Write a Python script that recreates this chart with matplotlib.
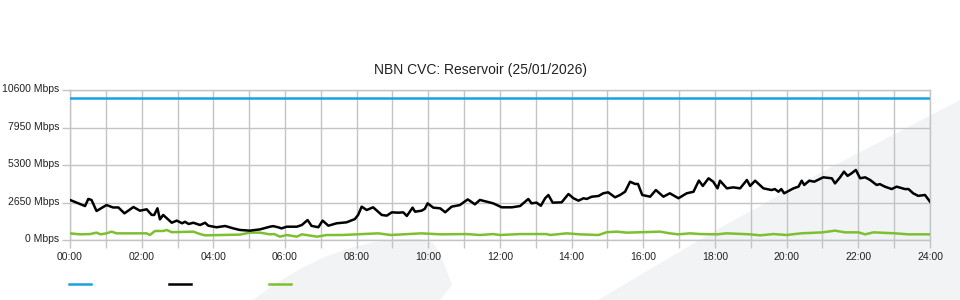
import matplotlib
matplotlib.use("Agg")
import matplotlib.pyplot as plt
from matplotlib.patches import Polygon
from matplotlib.ticker import FixedLocator, MultipleLocator
from matplotlib.transforms import ScaledTranslation

plt.rcParams['font.family'] = ['Liberation Sans', 'DejaVu Sans']

title = "NBN CVC: Reservoir (25/01/2026)"

# capacity (blue)
cap_hours = [0, 24]
cap_mbps = [10000, 10000]

# traffic (black)
black_hours = [0.00, 0.23, 0.42, 0.51, 0.60, 0.74, 1.02, 1.20, 1.35, 1.52, 1.77, 1.95, 2.14, 2.28, 2.35,
               2.44, 2.51, 2.60, 2.84, 2.98, 3.13, 3.21, 3.31, 3.44, 3.63, 3.77, 3.86, 4.09, 4.33, 4.56,
               4.74, 5.02, 5.30, 5.58, 5.67, 5.81, 5.90, 6.05, 6.33, 6.47, 6.63, 6.74, 6.93, 7.05, 7.21,
               7.44, 7.72, 7.95, 8.04, 8.14, 8.28, 8.46, 8.70, 8.84, 8.98, 9.16, 9.30, 9.40, 9.56, 9.63,
               9.81, 9.90, 9.98, 10.14, 10.33, 10.47, 10.65, 10.88, 11.10, 11.30, 11.44, 11.63, 11.81,
               12.05, 12.33, 12.56, 12.79, 12.88, 13.02, 13.14, 13.26, 13.35, 13.47, 13.72, 13.91, 14.05,
               14.19, 14.33, 14.42, 14.56, 14.75, 14.88, 15.02, 15.21, 15.35, 15.49, 15.63, 15.77, 15.85,
               15.97, 16.19, 16.35, 16.56, 16.74, 16.98, 17.21, 17.40, 17.55, 17.66, 17.82, 17.95, 18.07,
               18.14, 18.33, 18.51, 18.70, 18.89, 18.98, 19.12, 19.35, 19.58, 19.67, 19.77, 19.85, 19.93,
               20.19, 20.33, 20.42, 20.49, 20.63, 20.77, 21.02, 21.26, 21.35, 21.49, 21.60, 21.70, 21.81,
               21.93, 22.05, 22.19, 22.33, 22.51, 22.60, 22.74, 22.93, 23.07, 23.30, 23.40, 23.53, 23.67,
               23.86, 24.00]
black_mbps = [2830, 2590, 2400, 2900, 2830, 2050, 2470, 2300, 2300, 1885, 2330, 2070, 2170, 1770, 1770,
              2240, 1460, 1770, 1220, 1370, 1180, 1290, 1130, 1220, 1060, 1220, 1010, 900, 990, 820,
              710, 660, 750, 940, 980, 900, 820, 940, 940, 1060, 1410, 1000, 900, 1370, 1010,
              1180, 1250, 1480, 1770, 2355, 2120, 2310, 1770, 1720, 1955, 1930, 1955, 1700, 2285, 2000,
              2070, 2200, 2590, 2285, 2240, 1960, 2355, 2470, 2870, 2520, 2830, 2710, 2590,
              2310, 2310, 2400, 2900, 2590, 2640, 2420, 2950, 3180, 2640, 2660, 3250, 2950,
              2780, 2950, 2900, 3060, 3110, 3300, 3370, 3015, 3180, 3410, 4120, 3960, 3960,
              3180, 3060, 3530, 3060, 3300, 2950, 3300, 3410, 4200, 3820, 4360, 4120, 3650,
              4190, 3650, 3720, 3650, 4240, 3820, 4190, 3650, 3530, 3600, 3410, 3600, 3300,
              3650, 3770, 4190, 3890, 4190, 4120, 4430, 4360, 4000, 4430, 4830, 4530, 4710,
              4950, 4360, 4430, 4240, 3890, 3950, 3770, 3600, 3770, 3600, 3600, 3300, 3120,
              3180, 2710]

# green series
green_hours = [0.00, 0.28, 0.56, 0.74, 0.85, 1.02, 1.16, 1.30, 2.14, 2.23, 2.37, 2.60, 2.70, 2.84, 3.44,
               3.63, 3.77, 4.74, 5.02, 5.30, 5.58, 5.70, 5.86, 6.05, 6.33, 6.47, 6.90, 7.16, 7.60, 8.00,
               8.60, 8.95, 9.81, 10.33, 11.07, 11.44, 11.81, 12.00, 12.56, 13.30, 13.40, 13.86, 14.23,
               14.75, 14.98, 15.26, 15.54, 16.47, 16.74, 16.98, 17.30, 17.60, 18.05, 18.33, 18.98, 19.26,
               19.63, 20.00, 20.40, 21.00, 21.35, 21.63, 22.00, 22.19, 22.42, 23.03, 23.40, 24.00]
green_mbps = [470, 400, 420, 520, 400, 470, 590, 470, 470, 353, 636, 636, 707, 552, 590,
              420, 330, 380, 520, 520, 400, 420, 235, 353, 235, 400, 235, 353, 353, 400,
              470, 353, 470, 400, 420, 353, 420, 353, 420, 420, 353, 470, 400,
              353, 552, 590, 520, 590, 470, 400, 470, 420, 400, 470, 400, 330,
              420, 353, 470, 540, 660, 540, 540, 400, 540, 470, 400, 400]

y_ticks = [0, 2650, 5300, 7950, 10600]
y_tick_labels = ["0 Mbps", "2650 Mbps", "5300 Mbps", "7950 Mbps", "10600 Mbps"]
x_ticks = list(range(0, 25, 2))
x_tick_labels = ["%02d:00" % h for h in x_ticks]

W, H = 960, 300
fig = plt.figure(figsize=(W / 100, H / 100), dpi=100)
fig.patch.set_facecolor('white')


def px(pts):
    return [(x / W, 1 - y / H) for x, y in pts]


wm = '#f2f3f5'
shape1 = [(253, 300), (275, 284), (300, 269), (325, 257), (350, 248), (375, 242), (400, 239),
          (420, 239), (433, 243), (440, 253), (452, 285), (440, 300)]
shape2 = [(598, 300), (720, 228), (820, 173), (960, 100), (960, 300)]
for s in (shape1, shape2):
    fig.add_artist(Polygon(px(s), closed=True, transform=fig.transFigure,
                           facecolor=wm, edgecolor='none', zorder=-5))

ax = fig.add_axes([70 / W, 1 - 240 / H, 860 / W, 150 / H])
ax.set_facecolor('none')

gc = '#c4c4c4'
l1, = ax.plot(cap_hours, cap_mbps, color='#1ba1e2', lw=1.8, zorder=3)
l2, = ax.plot(black_hours, black_mbps, color='black', lw=1.8, zorder=4)
l3, = ax.plot(green_hours, green_mbps, color='#7cc031', lw=1.8, zorder=3)

ax.set_xlim(0, 24)
ax.set_ylim(0, 10600)
ax.xaxis.set_major_locator(FixedLocator(x_ticks))
ax.set_xticklabels(x_tick_labels)
ax.xaxis.set_minor_locator(MultipleLocator(1))
ax.yaxis.set_major_locator(FixedLocator(y_ticks))
ax.set_yticklabels(y_tick_labels)

ax.grid(True, which='both', axis='x', color=gc, lw=1.0)
ax.grid(True, which='major', axis='y', color=gc, lw=1.0)
for sp in ax.spines.values():
    sp.set_color(gc)
    sp.set_linewidth(1.0)
ax.tick_params(axis='both', which='both', color=gc, width=1.0, length=5.5,
               labelsize=7.5, labelcolor='#222222')
ax.tick_params(axis='x', which='both', pad=3)
ax.tick_params(axis='y', pad=2)

shift = ScaledTranslation(0, 2 / 100, fig.dpi_scale_trans)
for lab in ax.get_yticklabels():
    lab.set_transform(lab.get_transform() + shift)

fig.text(0.5, 1 - 70 / H, title, ha='center', va='center', fontsize=10, color='#222222')

fig.legend([l1, l2, l3], ['', '', ''], loc='center left',
           bbox_to_anchor=(69 / W, 1 - 285 / H), ncol=3, frameon=False,
           fontsize=8, handlelength=1.98, handletextpad=0, columnspacing=7.0,
           borderpad=0, borderaxespad=0)

fig.savefig('out.png', dpi=100, facecolor='white')
